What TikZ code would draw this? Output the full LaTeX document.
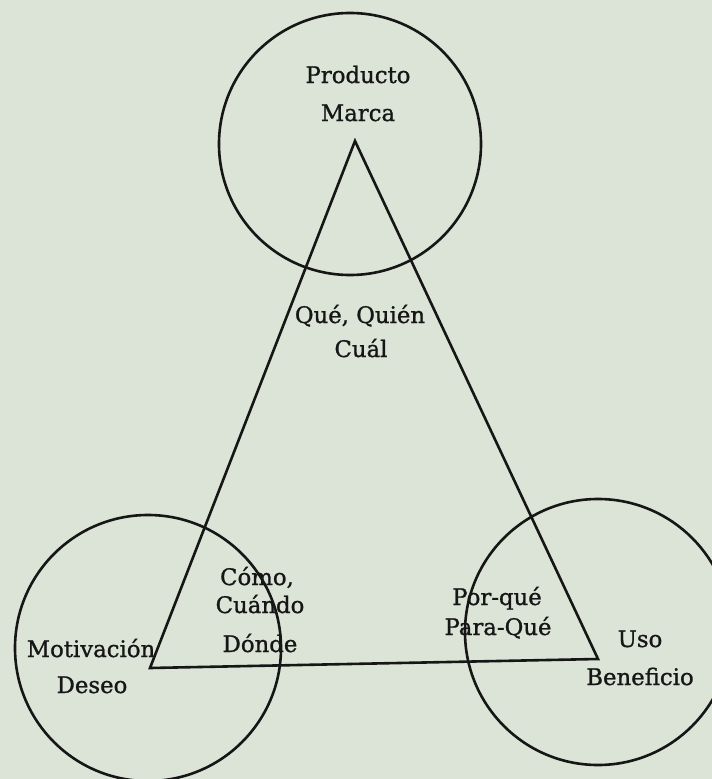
\documentclass[tikz,border=0pt]{standalone}
\usepackage{fontspec}
\setmainfont{DejaVu Serif}
\newfontfamily\lblfont[FakeBold=1.1]{DejaVu Serif}
\definecolor{paper}{RGB}{219,228,214}
\definecolor{ink}{RGB}{22,22,22}
\tikzset{
  ring/.style={circle, draw=ink, line width=2.6pt, inner sep=0pt},
  lbl/.style={anchor=base, text=ink, inner sep=0pt, font=\lblfont\fontsize{22.8}{26}\selectfont},
  edge/.style={draw=ink, line width=2.6pt, line join=miter}
}
\begin{document}
\begin{tikzpicture}[x=1pt,y=-1pt]
\fill[paper] (0,0) rectangle (712,779);
\useasboundingbox (0,0) rectangle (712,779);
% circles
\node[ring, minimum size=262pt] (ctop) at (350,144) {};
\node[ring, minimum size=266pt] (cleft) at (148,648) {};
\node[ring, minimum size=266pt] (cright) at (598,632) {};
% triangle
\coordinate (apex) at (355,141);
\coordinate (bl) at (150,668);
\coordinate (br) at (598,659);
\draw[edge] (apex) -- (bl) -- (br) -- cycle;
% labels
\node[lbl] (producto) at (358,83) {Producto};
\node[lbl] (marca) at (358,121) {Marca};
\node[lbl] (que) at (360,323) {Qué, Quién};
\node[lbl] (cual) at (361,357) {Cuál};
\node[lbl] (como) at (257,585) {Cómo,};
\node[lbl] (cuando) at (260,613) {Cuándo};
\node[lbl] (donde) at (260,652) {Dónde};
\node[lbl] (motiv) at (91,657) {Motivación};
\node[lbl] (deseo) at (92,693) {Deseo};
\node[lbl] (porque) at (497,605) {Por-qué};
\node[lbl] (paraque) at (498,635) {Para-Qué};
\node[lbl] (uso) at (640,647) {Uso};
\node[lbl] (benef) at (640,685) {Beneficio};
\end{tikzpicture}
\end{document}
